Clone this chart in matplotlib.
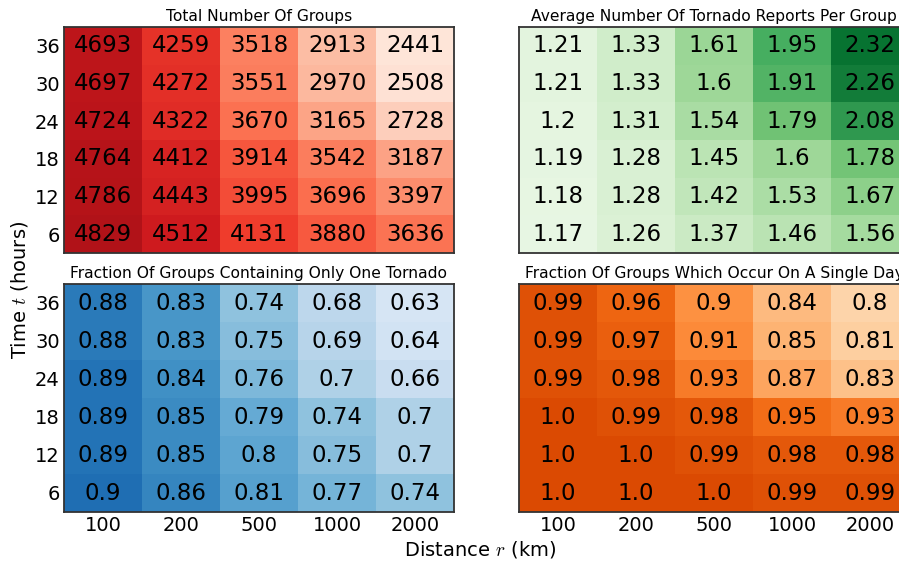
import numpy as np
import matplotlib

matplotlib.use("Agg")
import matplotlib.pyplot as plt
from matplotlib.colors import ListedColormap

plt.rcParams["font.family"] = ["DejaVu Sans"]
plt.rcParams["mathtext.fontset"] = "cm"

distances = ["100", "200", "500", "1000", "2000"]
hours = ["6", "12", "18", "24", "30", "36"]

# rows go from t = 6 h (bottom) to t = 36 h (top)
total_groups = [
    [4829, 4512, 4131, 3880, 3636],
    [4786, 4443, 3995, 3696, 3397],
    [4764, 4412, 3914, 3542, 3187],
    [4724, 4322, 3670, 3165, 2728],
    [4697, 4272, 3551, 2970, 2508],
    [4693, 4259, 3518, 2913, 2441],
]
avg_reports = [
    [1.17, 1.26, 1.37, 1.46, 1.56],
    [1.18, 1.28, 1.42, 1.53, 1.67],
    [1.19, 1.28, 1.45, 1.6, 1.78],
    [1.2, 1.31, 1.54, 1.79, 2.08],
    [1.21, 1.33, 1.6, 1.91, 2.26],
    [1.21, 1.33, 1.61, 1.95, 2.32],
]
frac_single_tornado = [
    [0.9, 0.86, 0.81, 0.77, 0.74],
    [0.89, 0.85, 0.8, 0.75, 0.7],
    [0.89, 0.85, 0.79, 0.74, 0.7],
    [0.89, 0.84, 0.76, 0.7, 0.66],
    [0.88, 0.83, 0.75, 0.69, 0.64],
    [0.88, 0.83, 0.74, 0.68, 0.63],
]
frac_single_day = [
    [1.0, 1.0, 1.0, 0.99, 0.99],
    [1.0, 1.0, 0.99, 0.98, 0.98],
    [1.0, 0.99, 0.98, 0.95, 0.93],
    [0.99, 0.98, 0.93, 0.87, 0.83],
    [0.99, 0.97, 0.91, 0.85, 0.81],
    [0.99, 0.96, 0.9, 0.84, 0.8],
]

panels = [
    ("Total Number Of Groups", total_groups, "Reds", (0.10, 0.835)),
    ("Average Number Of Tornado Reports Per Group", avg_reports, "Greens", (0.11, 0.85)),
    ("Fraction Of Groups Containing Only One Tornado", frac_single_tornado, "Blues", (0.17, 0.76)),
    ("Fraction Of Groups Which Occur On A Single Day", frac_single_day, "Oranges", (0.23, 0.74)),
]

W, H = 899, 562
fig = plt.figure(figsize=(W / 100, H / 100), dpi=100)

# axes boxes in pixels: (left, top, width, height); right column runs off the page
boxes = [(64, 27, 390, 226), (519, 27, 390, 226),
         (64, 284, 390, 228), (519, 284, 390, 228)]


def truncated(name, lo, hi):
    base = plt.get_cmap(name)
    return ListedColormap(base(np.linspace(lo, hi, 256)))


for i, ((title, values, cmap_name, (lo, hi)), (l, t, w, h)) in enumerate(zip(panels, boxes)):
    ax = fig.add_axes([l / W, 1 - (t + h) / H, w / W, h / H])
    data = np.array(values, dtype=float)
    ax.pcolormesh(np.arange(len(distances) + 1), np.arange(len(hours) + 1), data,
                  cmap=truncated(cmap_name, lo, hi), shading="flat")
    for r in range(data.shape[0]):
        for c in range(data.shape[1]):
            ax.text(c + 0.5, r + 0.5, str(values[r][c]), ha="center", va="center",
                    fontsize=16.5, color="black")
    ax.set_xlim(0, len(distances))
    ax.set_ylim(0, len(hours))
    ax.set_xticks(np.arange(len(distances)) + 0.5)
    ax.set_yticks(np.arange(len(hours)) + 0.5)
    ax.set_title(title, fontsize=11.2, pad=4)
    ax.tick_params(length=0, labelsize=14, pad=3)
    if i >= 2:
        ax.set_xticklabels(distances)
    else:
        ax.set_xticklabels([])
    if i % 2 == 0:
        ax.set_yticklabels(hours)
    else:
        ax.set_yticklabels([])
    for sp in ax.spines.values():
        sp.set_color("#333333")
        sp.set_linewidth(1.3)

fig.text(20 / W, 1 - 290 / H, "Time $t$ (hours)", rotation=90, ha="center", va="center",
         fontsize=14)
fig.text(480 / W, 1 - 550 / H, "Distance $r$ (km)", ha="center", va="center", fontsize=14)

fig.savefig("out.png", dpi=100)
